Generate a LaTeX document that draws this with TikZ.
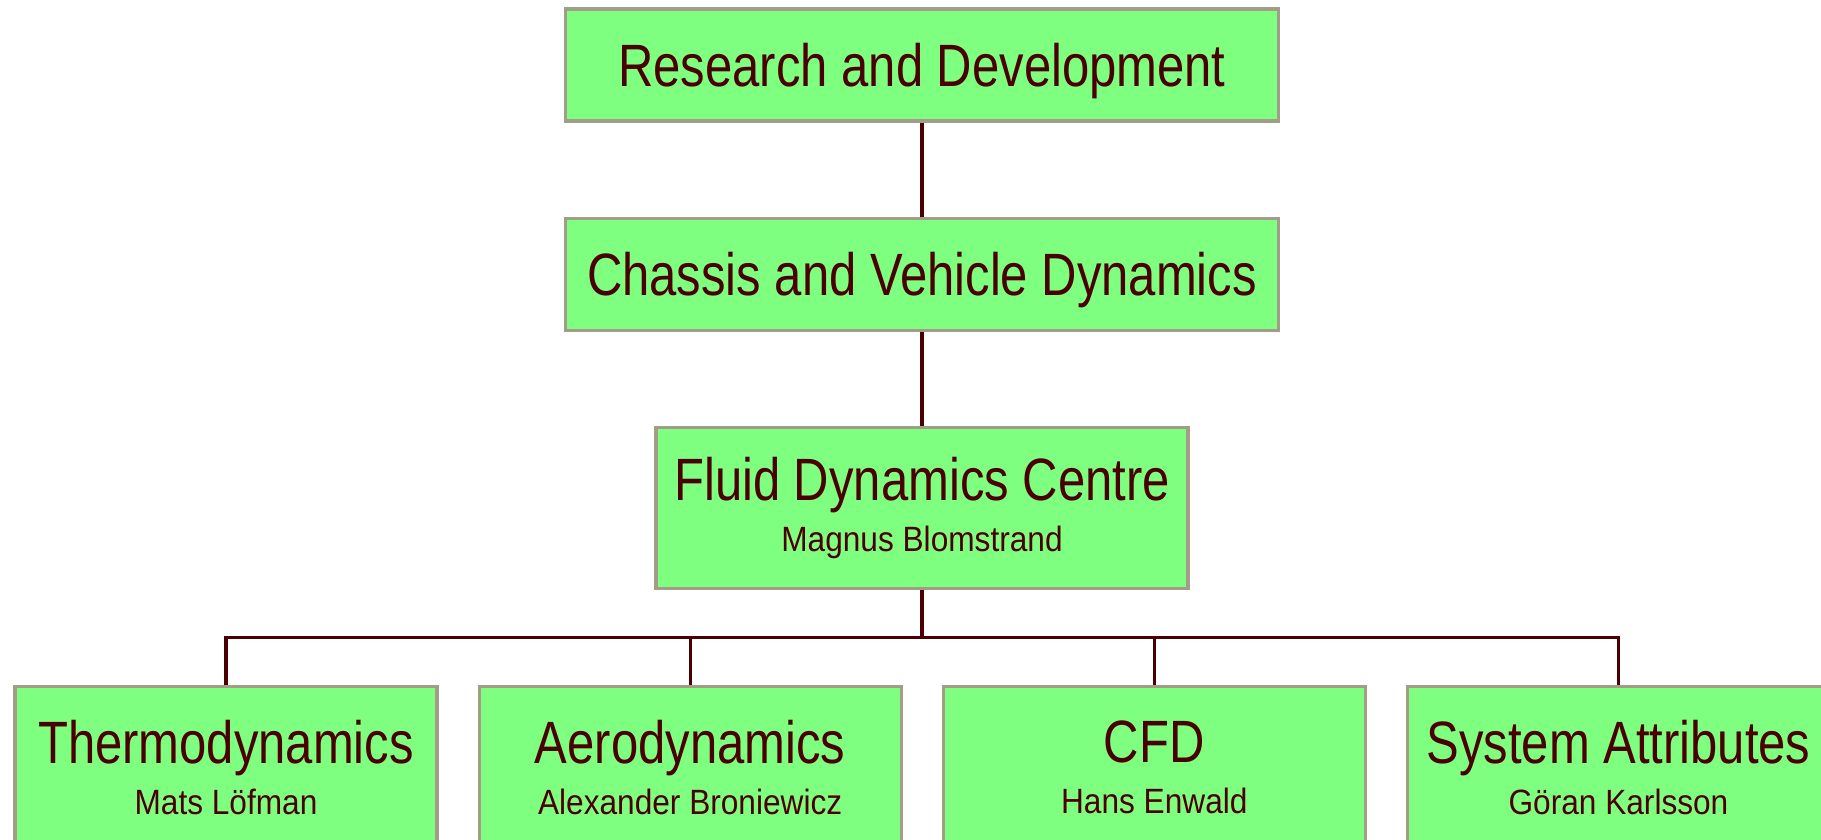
\documentclass[tikz,border=0pt]{standalone}
\usepackage{fontspec}
\setmainfont{Liberation Sans}[FakeStretch=0.82]
\newfontfamily\namefamily{Liberation Sans}[FakeStretch=0.9]
\usepackage{tikz}
\usetikzlibrary{positioning,calc}
\usepackage{xcolor}
\definecolor{boxFill}{HTML}{7FFF7F}
\definecolor{boxBorder}{HTML}{A39C89}
\definecolor{darkMaroon}{HTML}{4A0000}
\newcommand{\titlefont}{\fontsize{17pt}{20pt}\selectfont}
\newcommand{\namefont}{\namefamily\fontsize{10pt}{12pt}\selectfont}
\tikzset{
  link/.style={line width=0.9pt, draw=darkMaroon},
  dept/.style={draw=boxBorder, fill=boxFill, line width=0.9pt,
    minimum width=7.13cm, minimum height=1.12cm, inner sep=0pt,
    text depth=0pt, font=\titlefont, text=darkMaroon, align=center},
  unit/.style={draw=boxBorder, fill=boxFill, line width=0.9pt,
    minimum width=#1, minimum height=1.61cm, inner sep=0pt,
    font=\titlefont, text=darkMaroon, align=center},
  unit/.default=4.22cm
}

\begin{document}
\begin{tikzpicture}[x=1cm,y=1cm]
  \clip (0,0) rectangle (18.21,-8.4);
  % top chain
  \node[dept] (rd) at (9.22,-0.65) {Research and Development};
  \node[dept, below=0.94cm of rd] (cvd) {Chassis and Vehicle Dynamics};
  \node[unit=5.32cm, below=0.94cm of cvd] (fdc) {Fluid Dynamics Centre\\[-5.5pt]{\namefont Magnus Blomstrand}};
  % groups
  \node[unit, anchor=north] (thermo) at (2.26,-6.85) {Thermodynamics\\[-5.5pt]{\namefont Mats Löfman}};
  \node[unit, right=0.39cm of thermo] (aero) {Aerodynamics\\[-5.5pt]{\namefont Alexander Broniewicz}};
  \node[unit, right=0.39cm of aero] (cfd) {CFD\\[-5.5pt]{\namefont Hans Enwald}};
  \node[unit, right=0.39cm of cfd] (sysattr) {System Attributes\\[-5.5pt]{\namefont Göran Karlsson}};
  % connectors
  \draw[link] (rd.south) -- (cvd.north);
  \draw[link] (cvd.south) -- (fdc.north);
  \coordinate (bus) at ($(fdc.south)+(0,-0.48)$);
  \draw[link] (fdc.south) -- (bus);
  \draw[link] (bus) -| (thermo.north);
  \draw[link] (bus) -| (aero.north);
  \draw[link] (bus) -| (cfd.north);
  \draw[link] (bus) -| (sysattr.north);
\end{tikzpicture}
\end{document}
